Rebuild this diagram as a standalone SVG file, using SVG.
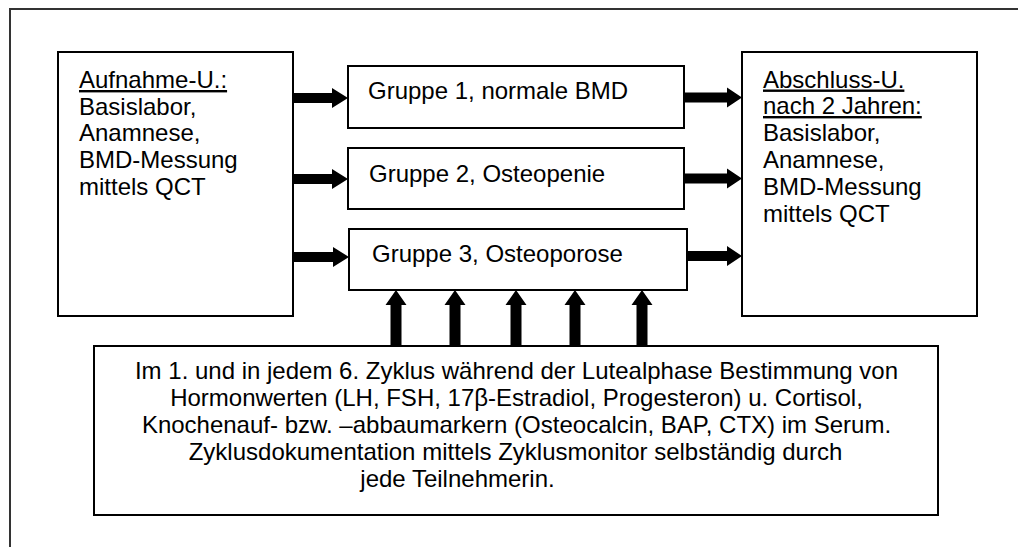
<svg xmlns="http://www.w3.org/2000/svg" width="1018" height="547" viewBox="0 0 1018 547">
  <style>
    .box { fill: #ffffff; stroke: #000000; stroke-width: 2; }
    .t { font-family: "Liberation Sans", Arial, sans-serif; font-size: 24px; fill: #000000; }
    .u { text-decoration: underline; }
    .arr { fill: #000000; }
  </style>
  <rect x="0" y="0" width="1018" height="547" fill="#ffffff"/>
  <path d="M10,547 V9 H1018" fill="none" stroke="#333333" stroke-width="2"/>

  <g id="connectors">
    <polygon class="arr" points="293,93 332,93 332,88 348,98 332,108 332,103 293,103"/>
    <polygon class="arr" points="293,174 332,174 332,169 348,179 332,189 332,184 293,184"/>
    <polygon class="arr" points="293,252 333,252 333,247 349,257 333,267 333,262 293,262"/>
    <polygon class="arr" points="684,92.5 727,92.5 727,87.5 742,97.5 727,107.5 727,102.5 684,102.5"/>
    <polygon class="arr" points="684,173.5 727,173.5 727,168.5 742,178.5 727,188.5 727,183.5 684,183.5"/>
    <polygon class="arr" points="687,251 727,251 727,246 742,256 727,266 727,261 687,261"/>
    <polygon class="arr" points="390.5,346 390.5,305 385.5,305 396,290 406.5,305 401.5,305 401.5,346"/>
    <polygon class="arr" points="449.5,346 449.5,305 444.5,305 455,290 465.5,305 460.5,305 460.5,346"/>
    <polygon class="arr" points="510.5,346 510.5,305 505.5,305 516,290 526.5,305 521.5,305 521.5,346"/>
    <polygon class="arr" points="569.5,346 569.5,305 564.5,305 575,290 585.5,305 580.5,305 580.5,346"/>
    <polygon class="arr" points="636.5,346 636.5,305 631.5,305 642,290 652.5,305 647.5,305 647.5,346"/>
  </g>

  <g id="aufnahme">
    <rect class="box" x="58" y="52" width="235" height="264"/>
    <text class="t" x="79" y="88"><tspan class="u">Aufnahme-U.:</tspan></text>
    <text class="t" x="79" y="114.5">Basislabor,</text>
    <text class="t" x="79" y="141">Anamnese,</text>
    <text class="t" x="79" y="168">BMD-Messung</text>
    <text class="t" x="79" y="195">mittels QCT</text>
  </g>

  <g id="gruppe1">
    <rect class="box" x="348" y="66" width="336" height="62"/>
    <text class="t" x="368" y="99">Gruppe 1, normale BMD</text>
  </g>
  <g id="gruppe2">
    <rect class="box" x="348" y="148" width="336" height="61"/>
    <text class="t" x="369" y="182">Gruppe 2, Osteopenie</text>
  </g>
  <g id="gruppe3">
    <rect class="box" x="349" y="229" width="338" height="61"/>
    <text class="t" x="372" y="262">Gruppe 3, Osteoporose</text>
  </g>

  <g id="abschluss">
    <rect class="box" x="742" y="52" width="235" height="264"/>
    <text class="t" x="763" y="87.5"><tspan class="u">Abschluss-U.</tspan></text>
    <text class="t" x="763" y="114"><tspan class="u">nach 2 Jahren:</tspan></text>
    <text class="t" x="763" y="141">Basislabor,</text>
    <text class="t" x="763" y="168">Anamnese,</text>
    <text class="t" x="763" y="195">BMD-Messung</text>
    <text class="t" x="763" y="222">mittels QCT</text>
  </g>

  <g id="messungen">
    <rect class="box" x="94" y="346" width="844" height="169"/>
    <text class="t" x="516.5" y="379" text-anchor="middle">Im 1. und in jedem 6. Zyklus während der Lutealphase Bestimmung von</text>
    <text class="t" x="516.5" y="406" text-anchor="middle">Hormonwerten (LH, FSH, 17β-Estradiol, Progesteron) u. Cortisol,</text>
    <text class="t" x="516.5" y="433" text-anchor="middle">Knochenauf- bzw. –abbaumarkern (Osteocalcin, BAP, CTX) im Serum.</text>
    <text class="t" x="515.5" y="460" text-anchor="middle">Zyklusdokumentation mittels Zyklusmonitor selbständig durch</text>
    <text class="t" x="457.5" y="487" text-anchor="middle">jede Teilnehmerin.</text>
  </g>
</svg>
